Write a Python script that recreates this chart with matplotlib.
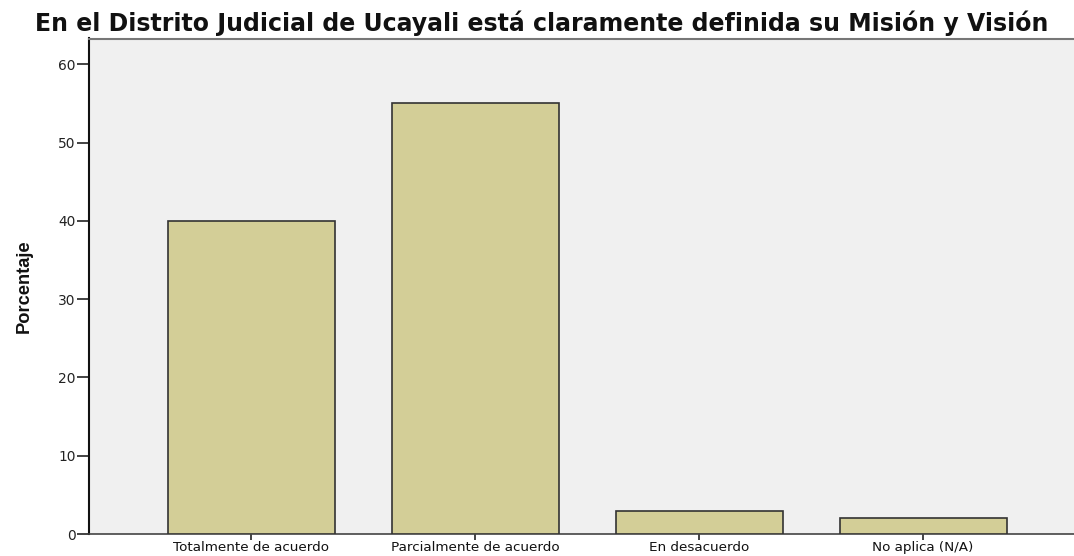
import matplotlib
matplotlib.use("Agg")
import matplotlib.pyplot as plt
import numpy as np

categories = ["Totalmente de acuerdo", "Parcialmente de acuerdo", "En desacuerdo", "No aplica (N/A)"]
values = [40, 55, 3, 2]
yticks = [0, 10, 20, 30, 40, 50, 60]
title = "En el Distrito Judicial de Ucayali está claramente definida su Misión y Visión"
ylabel = "Porcentaje"

plt.rcParams['font.family'] = ['DejaVu Sans']

W, H, DPI = 1074, 556, 100
fig = plt.figure(figsize=(W / DPI, H / DPI), dpi=DPI)
fig.patch.set_facecolor('white')

left_px, right_px, top_px, bottom_px = 89, 1074, 38.5, 534
ax = fig.add_axes([left_px / W, 1 - bottom_px / H, (right_px - left_px) / W, (bottom_px - top_px) / H])
ax.set_facecolor('#F0F0F0')

x = np.arange(len(categories))
ax.bar(x, values, width=0.746, color='#D3CE97', edgecolor='#333333', linewidth=1.2, zorder=3)

ax.set_xlim(-0.725, 3.674)
ax.set_ylim(0, 63.3)
ax.set_yticks(yticks)
ax.set_yticklabels([str(t) for t in yticks], color='#222222')
ax.set_xticks(x)
ax.set_xticklabels(categories, color='#111111')
ax.tick_params(axis='y', direction='out', length=8.5, width=1.2, color='#222222', pad=1)
ax.tick_params(axis='x', direction='out', length=4.5, width=1.2, color='#222222', pad=0.3)

ax.spines['left'].set_color('#111111')
ax.spines['left'].set_linewidth(1.5)
ax.spines['bottom'].set_color('#444444')
ax.spines['bottom'].set_linewidth(1.2)
ax.spines['top'].set_color('#777777')
ax.spines['top'].set_linewidth(1.5)
ax.spines['right'].set_visible(False)

t = fig.text(541.5 / W, 1 - 30.7 / H, title, ha='center', va='baseline', fontsize=15,
             fontweight='bold', color='#111111')
yl = fig.text(24 / W, 1 - 286 / H, ylabel, ha='center', va='center', rotation=90, fontsize=12,
              fontweight='bold', family=['Liberation Sans Narrow', 'Liberation Sans', 'DejaVu Sans'],
              color='#111111')

renderer = fig.canvas.get_renderer()

def fit(texts, target, dim='w'):
    base = texts[0].get_fontsize()
    bb = texts[0].get_window_extent(renderer)
    cur = bb.width if dim == 'w' else bb.height
    new = base * target / cur
    for tx in texts:
        tx.set_fontsize(new)

fit([t], 1017)
fit([yl], 93, 'h')
xt = ax.get_xticklabels()
for tx in xt:
    tx.set_fontsize(10)
fit(xt, 155)
yt = ax.get_yticklabels()
for tx in yt:
    tx.set_fontsize(10)
fit(yt[-1:], 17.5)
s = yt[-1].get_fontsize()
for tx in yt:
    tx.set_fontsize(s)

fig.savefig('out.png', dpi=DPI, facecolor='white')
